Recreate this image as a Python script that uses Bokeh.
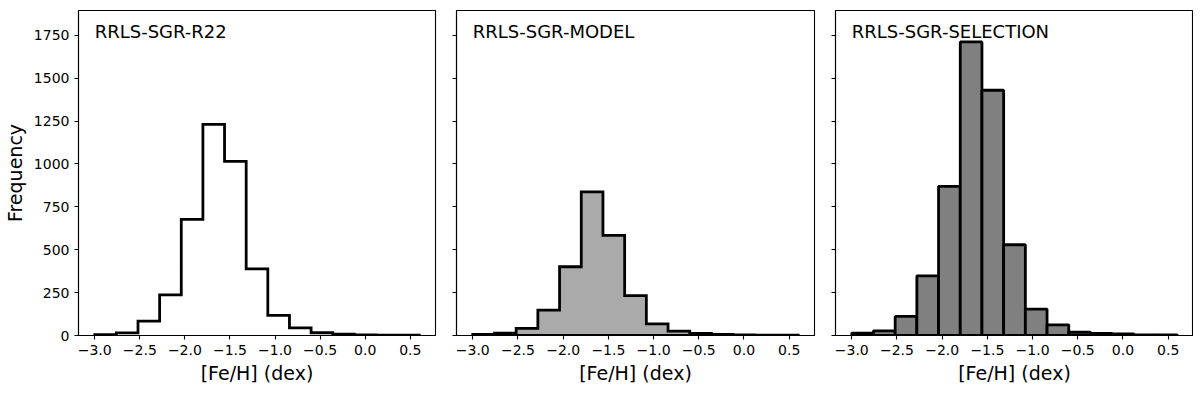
import numpy as np
from bokeh.plotting import figure
from bokeh.layouts import row
from bokeh.models import Range1d, FixedTicker, Label, ColumnDataSource
from bokeh.embed import file_html
from bokeh.resources import INLINE

# ---- data ----
fe_h_edges = [-3.0, -2.76, -2.52, -2.28, -2.04, -1.80, -1.56, -1.32,
              -1.08, -0.84, -0.60, -0.36, -0.12, 0.12, 0.36, 0.60]
counts_r22 = [5, 15, 84, 237, 677, 1231, 1015, 389, 117, 45, 16, 8, 4, 2, 2]
counts_model = [6, 14, 41, 148, 401, 838, 584, 233, 68, 25, 12, 6, 4, 2, 2]
counts_selection = [14, 27, 111, 348, 870, 1712, 1430, 529, 154, 62, 19, 12, 10, 4, 4]
panel_titles = ["RRLS-SGR-R22", "RRLS-SGR-MODEL", "RRLS-SGR-SELECTION"]
x_ticks = [-3.0, -2.5, -2.0, -1.5, -1.0, -0.5, 0.0, 0.5]
y_ticks = [0, 250, 500, 750, 1000, 1250, 1500, 1750]

FONT = "DejaVu Sans"
XR = (-3.18, 0.78)
YR = (0, 1895)


def fmt_x(t):
    s = f"{t:.1f}"
    return s.replace("-", "\u2212")


def step_xy(edges, counts):
    e = np.asarray(edges, dtype=float)
    c = np.asarray(counts, dtype=float)
    xs = [e[0]]
    ys = [0.0]
    for i in range(len(c)):
        xs += [e[i], e[i + 1]]
        ys += [c[i], c[i]]
    xs.append(e[-1])
    ys.append(0.0)
    return xs, ys


def make_fig(first, left_border, right_border, title):
    p = figure(
        frame_width=357 if first else 358,
        frame_height=325,
        x_range=Range1d(*XR),
        y_range=Range1d(*YR),
        output_backend="svg",
        toolbar_location=None,
        min_border_left=left_border,
        min_border_right=right_border,
        min_border_top=10,
        min_border_bottom=48,
    )
    p.xgrid.visible = False
    p.ygrid.visible = False
    p.outline_line_color = "black"
    p.outline_line_width = 1.1
    p.background_fill_color = "white"
    p.border_fill_color = "white"

    for ax in (p.xaxis[0], p.yaxis[0]):
        ax.axis_line_color = "black"
        ax.axis_line_width = 1.1
        ax.major_tick_line_color = "black"
        ax.major_tick_line_width = 1.1
        ax.major_tick_out = 4
        ax.major_tick_in = 0
        ax.minor_tick_line_color = None
        ax.major_label_text_font = FONT
        ax.major_label_text_font_size = "14px"
        ax.major_label_text_color = "black"
        ax.axis_label_text_font = FONT
        ax.axis_label_text_font_size = "19px"
        ax.axis_label_text_font_style = "normal"
        ax.axis_label_text_color = "black"

    p.xaxis.ticker = FixedTicker(ticks=x_ticks)
    p.xaxis.major_label_overrides = {t: fmt_x(t) for t in x_ticks}
    p.xaxis.axis_label = "[Fe/H] (dex)"
    p.xaxis.major_label_standoff = 5
    p.xaxis.axis_label_standoff = 4

    p.yaxis.ticker = FixedTicker(ticks=y_ticks)
    if first:
        p.yaxis.axis_label = "Frequency"
        p.yaxis.major_label_standoff = 5
        p.yaxis.axis_label_standoff = 5
    else:
        p.yaxis.major_label_overrides = {t: "" for t in y_ticks}
        p.yaxis.major_label_standoff = 0

    p.add_layout(Label(x=-3.0, y=1774, text=title, text_font=FONT,
                       text_font_size="18px", text_color="black",
                       text_baseline="alphabetic", text_align="left"))
    return p


# Panel 1: step outline
p1 = make_fig(True, 77, 11, panel_titles[0])
xs, ys = step_xy(fe_h_edges, counts_r22)
p1.line(xs, ys, line_color="black", line_width=2.8, line_join="miter")

# Panel 2: step filled
p2 = make_fig(False, 10, 11, panel_titles[1])
xs, ys = step_xy(fe_h_edges, counts_model)
p2.patch(xs, ys, fill_color="#aaaaaa", line_color="black", line_width=2.8,
         line_join="miter")

# Panel 3: bars
p3 = make_fig(False, 10, 0, panel_titles[2])
src = ColumnDataSource(dict(left=fe_h_edges[:-1], right=fe_h_edges[1:],
                            top=counts_selection))
p3.quad(left="left", right="right", bottom=0, top="top", source=src,
        fill_color="#808080", line_color="black", line_width=2.8)

layout = row(p1, p2, p3)
open("out.html", "w").write(file_html(layout, INLINE))
